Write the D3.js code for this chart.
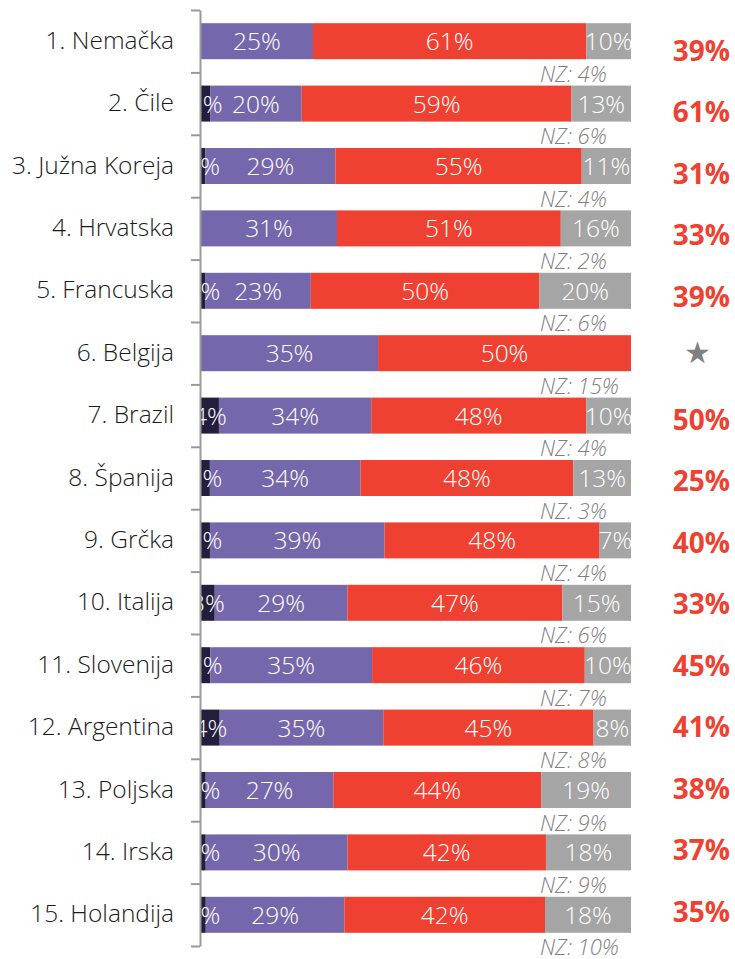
<!DOCTYPE html>
<html>
<head>
<meta charset="utf-8">
<script src="https://cdn.jsdelivr.net/npm/d3@7/dist/d3.min.js"></script>
<style>
  html, body { margin: 0; padding: 0; background: #fff; }
  svg { display: block; font-family: "Open Sans", "Noto Sans", sans-serif; }
  .light { font-weight: 300; }
</style>
</head>
<body>
<svg id="chart" width="735" height="959"></svg>
<script>
// Countries, top to bottom
const countries = [
  "1. Nemačka", "2. Čile", "3. Južna Koreja", "4. Hrvatska", "5. Francuska",
  "6. Belgija", "7. Brazil", "8. Španija", "9. Grčka", "10. Italija",
  "11. Slovenija", "12. Argentina", "13. Poljska", "14. Irska", "15. Holandija"
];
// Stacked shares (%), left to right
const darkValues   = [0, 2, 1, 0, 1, 0, 4, 2, 2, 3, 2, 4, 1, 1, 1];
const purpleValues = [25, 20, 29, 31, 23, 35, 34, 34, 39, 29, 35, 35, 27, 30, 29];
const redValues    = [61, 59, 55, 51, 50, 50, 48, 48, 48, 47, 46, 45, 44, 42, 42];
const grayValues   = [10, 13, 11, 16, 20, 0, 10, 13, 7, 15, 10, 8, 19, 18, 18];
// "NZ" (don't know) share, shown under each bar
const nzValues     = [4, 6, 4, 2, 6, 15, 4, 3, 4, 6, 7, 8, 9, 9, 10];
// Highlighted value on the right (null = star)
const rightValues  = [39, 61, 31, 33, 39, null, 50, 25, 40, 33, 45, 41, 38, 37, 35];

const seriesKeys = ["dark", "purple", "red", "gray"];
const seriesColors = ["#231E3B", "#7567AB", "#EE4131", "#A5A5A5"];
const seriesArrays = [darkValues, purpleValues, redValues, grayValues];

const svg = d3.select("#chart");

const y = d3.scaleBand()
  .domain(countries)
  .range([10, 946])
  .paddingInner(0.423)
  .paddingOuter(0.2115);

// each bar is normalised to the sum of its shown segments
const x = d3.scaleLinear().domain([0, 1]).range([201, 631]);

const rows = countries.map((c, i) => {
  const vals = seriesArrays.map(a => a[i]);
  const total = d3.sum(vals);
  let acc = 0;
  const segs = vals.map((v, k) => {
    const s = { key: seriesKeys[k], color: seriesColors[k], value: v,
                x0: acc / total, x1: (acc + v) / total };
    acc += v;
    return s;
  });
  return { country: c, segs, nz: nzValues[i], right: rightValues[i], i };
});

// clip so that labels of the thin dark segments are cut at the axis
svg.append("defs").append("clipPath").attr("id", "plotClip")
  .append("rect").attr("x", 197).attr("y", 0).attr("width", 540).attr("height", 959);

const plot = svg.append("g");

const rowG = plot.selectAll("g.row").data(rows).join("g").attr("class", "row");

rowG.selectAll("rect").data(d => d.segs.filter(s => s.value > 0).map(s => ({ ...s, country: d.country })))
  .join("rect")
  .attr("x", s => x(s.x0))
  .attr("width", s => x(s.x1) - x(s.x0))
  .attr("y", s => y(s.country))
  .attr("height", y.bandwidth())
  .attr("fill", s => s.color);

const labelG = plot.append("g").attr("clip-path", "url(#plotClip)");
labelG.selectAll("g").data(rows).join("g")
  .selectAll("text").data(d => d.segs.filter(s => s.value > 0).map(s => ({ ...s, country: d.country })))
  .join("text")
  .attr("class", "light")
  .attr("x", s => (x(s.x0) + x(s.x1)) / 2)
  .attr("y", s => y(s.country) + y.bandwidth() / 2 + 9)
  .attr("text-anchor", "middle")
  .attr("fill", "#fff")
  .attr("font-size", 24.5)
  .text(s => s.value + "%");

// NZ labels
plot.selectAll("text.nz").data(rows).join("text")
  .attr("class", "nz light")
  .attr("x", 540)
  .attr("y", d => y(d.country) + y.bandwidth() / 2 + 40.5)
  .attr("font-size", 22)
  .attr("font-style", "italic")
  .attr("fill", "#7F7F7F")
  .text(d => "NZ: " + d.nz + "%");

// axis with ticks at row boundaries
const yEdge = d3.scaleLinear().domain([0, countries.length]).range([10, 946]);
const axis = svg.append("g")
  .attr("transform", "translate(200,0)")
  .call(d3.axisLeft(yEdge).tickValues(d3.range(countries.length + 1)).tickFormat("").tickSize(9).tickSizeOuter(0));
axis.select(".domain").attr("stroke", "#999").attr("stroke-width", 2);
axis.selectAll(".tick line").attr("stroke", "#999").attr("stroke-width", 2);

// category labels
svg.selectAll("text.cat").data(rows).join("text")
  .attr("class", "cat light")
  .attr("x", 174)
  .attr("y", d => y(d.country) + y.bandwidth() / 2 + 7.5)
  .attr("text-anchor", "end")
  .attr("font-size", 24.5)
  .attr("fill", "#1A1A1A")
  .text(d => d.country);

// right column values
const yRight = d3.scalePoint().domain(countries).range([50.5, 912]);
svg.selectAll("text.right").data(rows).join("text")
  .attr("class", "right")
  .attr("x", d => d.right == null ? 697 : 730)
  .attr("y", d => d.right == null ? y(d.country) + y.bandwidth() / 2 + 10 : yRight(d.country) + 10)
  .attr("text-anchor", d => d.right == null ? "middle" : "end")
  .attr("font-size", d => d.right == null ? 30 : 28)
  .attr("font-weight", d => d.right == null ? 400 : 700)
  .attr("fill", d => d.right == null ? "#808080" : "#EE4131")
  .text(d => d.right == null ? "★" : d.right + "%");
</script>
</body>
</html>
